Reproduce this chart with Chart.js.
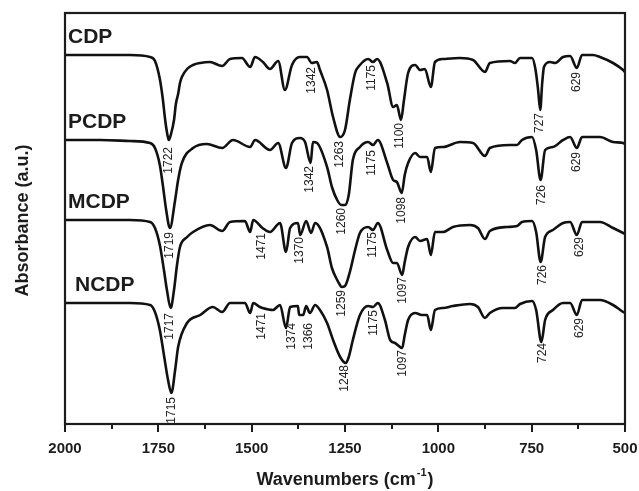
<!DOCTYPE html>
<html>
<head>
<meta charset="utf-8">
<title>FTIR spectra</title>
<script src="https://cdn.jsdelivr.net/npm/chart.js@4.4.1/dist/chart.umd.min.js"></script>
<style>
  html, body { margin: 0; padding: 0; background: #fff; }
  #wrap { width: 639px; height: 491px; }
</style>
</head>
<body>
<div id="wrap"><canvas id="ftir" width="639" height="491"></canvas></div>
<script>
// Spectra, stacked as in the figure: [wavenumber (cm-1), absorbance (a.u.)]
const cdpPoints = [
  [2000, 369], [1906, 369], [1826, 369], [1772, 367], [1759, 363], [1746, 345],
  [1738, 325], [1732, 305], [1727, 292], [1722, 284], [1716, 290], [1708, 304],
  [1703, 320], [1697, 330], [1692, 341], [1687, 347], [1673, 355], [1657, 359],
  [1638, 361], [1612, 362], [1579, 358], [1558, 365], [1526, 366], [1504, 357],
  [1491, 367], [1470, 362], [1451, 355], [1429, 363], [1411, 334], [1392, 359],
  [1371, 367], [1352, 367], [1339, 361], [1325, 362], [1317, 354], [1298, 334],
  [1282, 307], [1263, 287], [1250, 294], [1237, 324], [1223, 351], [1210, 359],
  [1188, 365], [1175, 362], [1164, 365], [1137, 341], [1121, 317], [1111, 319],
  [1100, 304], [1092, 324], [1081, 351], [1062, 359], [1049, 354], [1036, 355],
  [1020, 337], [1009, 362], [987, 365], [942, 366], [907, 364], [875, 352],
  [862, 361], [808, 363], [795, 361], [781, 366], [749, 366], [740, 355],
  [733, 335], [727, 314], [722, 340], [717, 357], [701, 362], [687, 361],
  [666, 367], [647, 368], [629, 356], [615, 369], [586, 369], [567, 367],
  [532, 361], [505, 354], [500, 352]
];
const pcdpPoints = [
  [2000, 284], [1906, 284], [1826, 283], [1772, 281], [1759, 276], [1746, 259],
  [1738, 239], [1729, 214], [1719, 196], [1705, 224], [1697, 244], [1687, 261],
  [1657, 276], [1620, 280], [1579, 276], [1550, 284], [1504, 277], [1491, 284],
  [1451, 274], [1429, 281], [1408, 256], [1392, 281], [1371, 286], [1357, 282],
  [1342, 261], [1336, 282], [1325, 281], [1298, 257], [1285, 237], [1271, 224],
  [1260, 219], [1250, 219], [1240, 229], [1229, 264], [1210, 277], [1188, 282],
  [1175, 279], [1162, 284], [1137, 261], [1121, 244], [1111, 242], [1098, 231],
  [1090, 249], [1081, 261], [1062, 271], [1049, 267], [1030, 267], [1020, 252],
  [1009, 276], [987, 277], [942, 282], [907, 281], [875, 268], [862, 276],
  [808, 279], [789, 279], [776, 284], [749, 287], [738, 274], [726, 244],
  [714, 274], [693, 277], [666, 284], [647, 287], [629, 276], [615, 287],
  [567, 287], [532, 282], [505, 281], [500, 280]
];
const mcdpPoints = [
  [2000, 204], [1906, 204], [1826, 204], [1772, 202], [1759, 196], [1746, 179],
  [1735, 154], [1727, 134], [1717, 116], [1708, 134], [1700, 159], [1692, 177],
  [1673, 187], [1657, 192], [1612, 199], [1579, 193], [1558, 202], [1518, 203],
  [1504, 192], [1496, 204], [1471, 196], [1451, 192], [1424, 201], [1408, 172],
  [1397, 196], [1376, 201], [1370, 189], [1354, 203], [1341, 191], [1330, 201],
  [1298, 177], [1285, 156], [1271, 144], [1265, 140], [1259, 137], [1250, 138],
  [1237, 152], [1223, 174], [1210, 191], [1188, 197], [1175, 194], [1162, 201],
  [1137, 174], [1121, 161], [1111, 161], [1097, 149], [1090, 162], [1081, 177],
  [1062, 187], [1049, 183], [1030, 185], [1020, 169], [1009, 192], [987, 192],
  [961, 197], [915, 199], [894, 196], [875, 185], [862, 193], [816, 197],
  [789, 198], [776, 202], [749, 203], [738, 192], [726, 162], [714, 187],
  [693, 194], [666, 201], [647, 202], [629, 189], [615, 202], [567, 202],
  [532, 196], [505, 191], [500, 190]
];
const ncdpPoints = [
  [2000, 121], [1906, 121], [1826, 121], [1772, 119], [1759, 112], [1746, 94],
  [1735, 69], [1724, 44], [1715, 31], [1705, 54], [1697, 77], [1673, 101],
  [1638, 109], [1604, 117], [1579, 112], [1558, 121], [1518, 121], [1504, 111],
  [1496, 121], [1478, 117], [1471, 116], [1443, 114], [1424, 119], [1408, 96],
  [1397, 117], [1376, 118], [1373, 109], [1362, 109], [1354, 118], [1344, 111],
  [1330, 119], [1317, 114], [1298, 101], [1282, 84], [1263, 67], [1248, 61],
  [1240, 67], [1229, 84], [1210, 109], [1188, 118], [1175, 117], [1162, 121],
  [1143, 104], [1129, 84], [1116, 81], [1097, 76], [1090, 89], [1081, 104],
  [1062, 111], [1044, 109], [1030, 109], [1020, 94], [1009, 114], [987, 116],
  [961, 118], [915, 120], [894, 117], [875, 106], [862, 111], [827, 116],
  [795, 116], [781, 120], [749, 123], [738, 114], [724, 82], [714, 104],
  [693, 114], [666, 121], [647, 121], [629, 109], [615, 124], [567, 124],
  [532, 119], [505, 112], [500, 111]
];

// Peak labels: [text, wavenumber, absorbance where the text starts]
const cdpPeaks = [
  ['1722', 1722, 277], ['1342', 1339, 357], ['1263', 1263, 283], ['1175', 1178, 359],
  ['1100', 1103, 301], ['727', 728, 311], ['629', 629, 352]
];
const pcdpPeaks = [
  ['1719', 1719, 192], ['1342', 1344, 258], ['1260', 1258, 216], ['1175', 1178, 274],
  ['1098', 1097, 227], ['726', 722, 239], ['629', 629, 272]
];
const mcdpPeaks = [
  ['1717', 1719, 111], ['1471', 1472, 191], ['1370', 1371, 187], ['1259', 1258, 134],
  ['1175', 1175, 192], ['1097', 1095, 147], ['726', 720, 159], ['629', 621, 187]
];
const ncdpPeaks = [
  ['1715', 1713, 27], ['1471', 1472, 111], ['1374', 1392, 101], ['1366', 1346, 101],
  ['1248', 1250, 59], ['1175', 1172, 114], ['1097', 1095, 74], ['724', 720, 81],
  ['629', 621, 106]
];

const seriesNames = ['CDP', 'PCDP', 'MCDP', 'NCDP'];
const xTicks = [2000, 1750, 1500, 1250, 1000, 750, 500];
const xTitle = 'Wavenumbers (cm';
const yTitle = 'Absorbance (a.u.)';

const allPoints = [cdpPoints, pcdpPoints, mcdpPoints, ncdpPoints];
const allPeaks = [cdpPeaks, pcdpPeaks, mcdpPeaks, ncdpPeaks];

const FONT = 'Arial, "Liberation Sans", Helvetica, sans-serif';
const INK = '#1c1c1c';

// Build datasets from the point lists
function toXY(list) {
  return list.map(function (p) {
    return { x: p[0], y: p[1] };
  });
}

const datasets = allPoints.map(function (pts, i) {
  return {
    label: seriesNames[i],
    data: toXY(pts),
    borderColor: '#111',
    borderWidth: 2.6,
    pointRadius: 0,
    fill: false,
    cubicInterpolationMode: 'monotone'
  };
});

// Frame, ticks, names, peak labels and axis titles
const decorPlugin = {
  id: 'decor',
  afterDraw: function (chart) {
    const ctx = chart.ctx;
    const area = chart.chartArea;
    const xs = chart.scales.x;
    const ys = chart.scales.y;

    ctx.save();

    // box
    ctx.strokeStyle = INK;
    ctx.lineWidth = 2.2;
    ctx.strokeRect(area.left, area.top, area.right - area.left, area.bottom - area.top);

    // outward ticks on the bottom axis, minor every 125
    ctx.lineWidth = 2;
    for (let w = 500; w <= 2000; w += 125) {
      const px = Math.round(xs.getPixelForValue(w));
      const len = (w % 250 === 0) ? 8 : 5;
      ctx.beginPath();
      ctx.moveTo(px, area.bottom);
      ctx.lineTo(px, area.bottom + len);
      ctx.stroke();
    }

    // sample names at the start of each trace
    ctx.fillStyle = INK;
    ctx.font = 'bold 21px ' + FONT;
    ctx.textAlign = 'left';
    ctx.textBaseline = 'alphabetic';
    const indent = [3, 3, 3, 10];
    allPoints.forEach(function (pts, i) {
      const py = ys.getPixelForValue(pts[0][1]) - 12;
      ctx.fillText(seriesNames[i], area.left + indent[i], py);
    });

    // peak positions, rotated
    ctx.font = '12px ' + FONT;
    ctx.fillStyle = '#222';
    allPeaks.forEach(function (peaks) {
      peaks.forEach(function (pk) {
        const px = xs.getPixelForValue(pk[1]);
        const py = ys.getPixelForValue(pk[2]);
        ctx.save();
        ctx.translate(px, py);
        ctx.rotate(-Math.PI / 2);
        ctx.textAlign = 'right';
        ctx.textBaseline = 'middle';
        ctx.fillText(pk[0], 0, 0);
        ctx.restore();
      });
    });

    // x title with superscript
    ctx.fillStyle = INK;
    ctx.font = 'bold 18px ' + FONT;
    ctx.textBaseline = 'alphabetic';
    const mainW = ctx.measureText(xTitle).width;
    ctx.font = 'bold 11px ' + FONT;
    const supW = ctx.measureText('-1').width;
    ctx.font = 'bold 18px ' + FONT;
    const closeW = ctx.measureText(')').width;
    const total = mainW + supW + closeW + 2;
    let tx = (area.left + area.right) / 2 - total / 2;
    const ty = 485;
    ctx.textAlign = 'left';
    ctx.fillText(xTitle, tx, ty);
    tx += mainW + 1;
    ctx.font = 'bold 11px ' + FONT;
    ctx.fillText('-1', tx, ty - 9);
    tx += supW + 1;
    ctx.font = 'bold 18px ' + FONT;
    ctx.fillText(')', tx, ty);

    // y title
    ctx.save();
    ctx.translate(23, (area.top + area.bottom) / 2 + 2);
    ctx.rotate(-Math.PI / 2);
    ctx.textAlign = 'center';
    ctx.textBaseline = 'middle';
    ctx.fillText(yTitle, 0, 0);
    ctx.restore();

    ctx.restore();
  }
};

const chart = new Chart(document.getElementById('ftir'), {
  type: 'line',
  data: { datasets: datasets },
  options: {
    responsive: false,
    animation: false,
    events: [],
    layout: { padding: { left: 65, right: 14, top: 13, bottom: 0 } },
    plugins: {
      legend: { display: false },
      tooltip: { enabled: false }
    },
    scales: {
      x: {
        type: 'linear',
        reverse: true,
        min: 500,
        max: 2000,
        afterFit: function (scale) {
          scale.height = 67;
          scale.paddingLeft = 0;
          scale.paddingRight = 0;
        },
        afterBuildTicks: function (scale) {
          scale.ticks = xTicks.map(function (v) {
            return { value: v };
          });
        },
        grid: { display: false },
        border: { display: false },
        ticks: {
          padding: 8,
          color: INK,
          font: { family: FONT, size: 15, weight: 'bold' },
          maxRotation: 0,
          autoSkip: false,
          callback: function (value) {
            return String(value);
          }
        }
      },
      y: {
        display: false,
        min: 0,
        max: 411
      }
    }
  },
  plugins: [decorPlugin]
});
</script>
</body>
</html>
